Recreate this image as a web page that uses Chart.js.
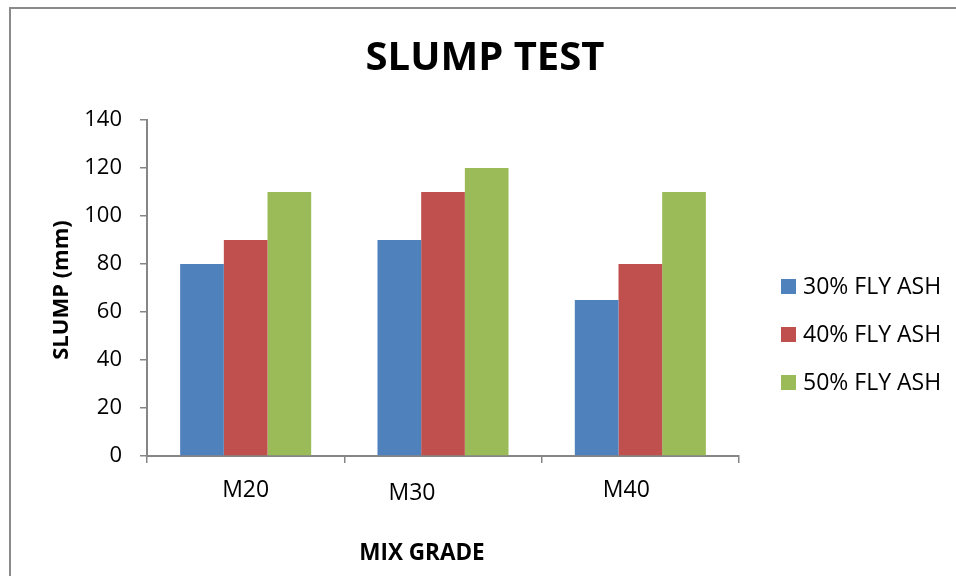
<!DOCTYPE html>
<html>
<head>
<meta charset="utf-8">
<title>Slump Test</title>
<script src="https://cdn.jsdelivr.net/npm/chart.js@4.4.1/dist/chart.umd.min.js"></script>
<style>
    html, body { margin: 0; padding: 0; background: #fff; }
    #wrap { position: relative; width: 956px; height: 576px; overflow: hidden; }
    #frame {
        position: absolute; left: 9px; top: 7px; width: 2000px; height: 2000px;
        border-left: 2px solid #8a8a8a; border-top: 2px solid #8a8a8a;
        pointer-events: none;
    }
</style>
</head>
<body>
<div id="wrap">
    <canvas id="chart-slump" width="956" height="576"></canvas>
    <div id="frame"></div>
</div>
<script>
/* ========================================
   Slump Test — grouped bar chart
   ======================================== */

const grades = ['M20', 'M30', 'M40'];
const seriesNames = ['30% FLY ASH', '40% FLY ASH', '50% FLY ASH'];
const flyAsh30 = [80, 90, 65];
const flyAsh40 = [90, 110, 80];
const flyAsh50 = [110, 120, 110];
const yTicks = [0, 20, 40, 60, 80, 100, 120, 140];

const colors = ['#4F81BD', '#C0504D', '#9BBB59'];
const FONT = '"Open Sans", "Liberation Sans", sans-serif';
const AXIS_GREY = '#868686';

// category labels in the source sit slightly off-centre
const labelShift = [[0, 0], [-31, 3], [-14, 0]];

const decorPlugin = {
    id: 'decor',
    afterDraw(chart) {
        const c = chart.ctx;
        const x = chart.scales.x;
        const area = chart.chartArea;
        c.save();
        c.fillStyle = '#000';
        c.textAlign = 'center';
        c.textBaseline = 'middle';

        // title
        c.font = 'bold 40px ' + FONT;
        c.fillText('SLUMP TEST', 485, 59);

        // category labels
        c.font = '23px ' + FONT;
        grades.forEach((g, i) => {
            const px = x.getPixelForValue(i) + labelShift[i][0];
            c.fillText(g, px, 490 + labelShift[i][1]);
        });

        // axis titles
        c.font = 'bold 22.5px ' + FONT;
        c.fillText('MIX GRADE', 422, 554);
        c.font = 'bold 22px ' + FONT;
        c.save();
        c.translate(62, (area.top + area.bottom) / 2 + 2);
        c.rotate(-Math.PI / 2);
        c.fillText('SLUMP (mm)', 0, 0);
        c.restore();

        // legend
        c.textAlign = 'left';
        c.font = '23px ' + FONT;
        seriesNames.forEach((name, i) => {
            const cy = 286 + i * 48;
            c.fillStyle = colors[i];
            c.fillRect(781, cy - 7, 15, 15);
            c.fillStyle = '#000';
            c.fillText(name, 803, cy + 1);
        });
        c.restore();
    },
};

const ctx = document.getElementById('chart-slump');
new Chart(ctx, {
    type: 'bar',
    data: {
        labels: grades,
        datasets: [flyAsh30, flyAsh40, flyAsh50].map((d, i) => ({
            label: seriesNames[i],
            data: d,
            backgroundColor: colors[i],
            borderWidth: 0,
            categoryPercentage: 0.664,
            barPercentage: 1.0,
        })),
    },
    options: {
        responsive: false,
        animation: false,
        layout: { padding: { left: 0, right: 217, top: 120, bottom: 0 } },
        plugins: {
            legend: { display: false },
            title: { display: false },
            tooltip: { enabled: false },
        },
        scales: {
            x: {
                afterFit(scale) { scale.height = 120; },
                ticks: { display: false },
                grid: {
                    offset: true,
                    drawOnChartArea: false,
                    drawTicks: true,
                    tickLength: 7,
                    color: AXIS_GREY,
                    lineWidth: 1.5,
                },
                border: { color: AXIS_GREY, width: 2 },
            },
            y: {
                min: 0,
                max: 140,
                afterFit(scale) { scale.width = 147; },
                afterBuildTicks(scale) { scale.ticks = yTicks.map(v => ({ value: v })); },
                ticks: {
                    color: '#000',
                    padding: 18,
                    font: { family: FONT, size: 22 },
                },
                grid: {
                    drawOnChartArea: false,
                    drawTicks: true,
                    tickLength: 7,
                    color: AXIS_GREY,
                    lineWidth: 1.5,
                },
                border: { color: AXIS_GREY, width: 2 },
            },
        },
    },
    plugins: [decorPlugin],
});
</script>
</body>
</html>
